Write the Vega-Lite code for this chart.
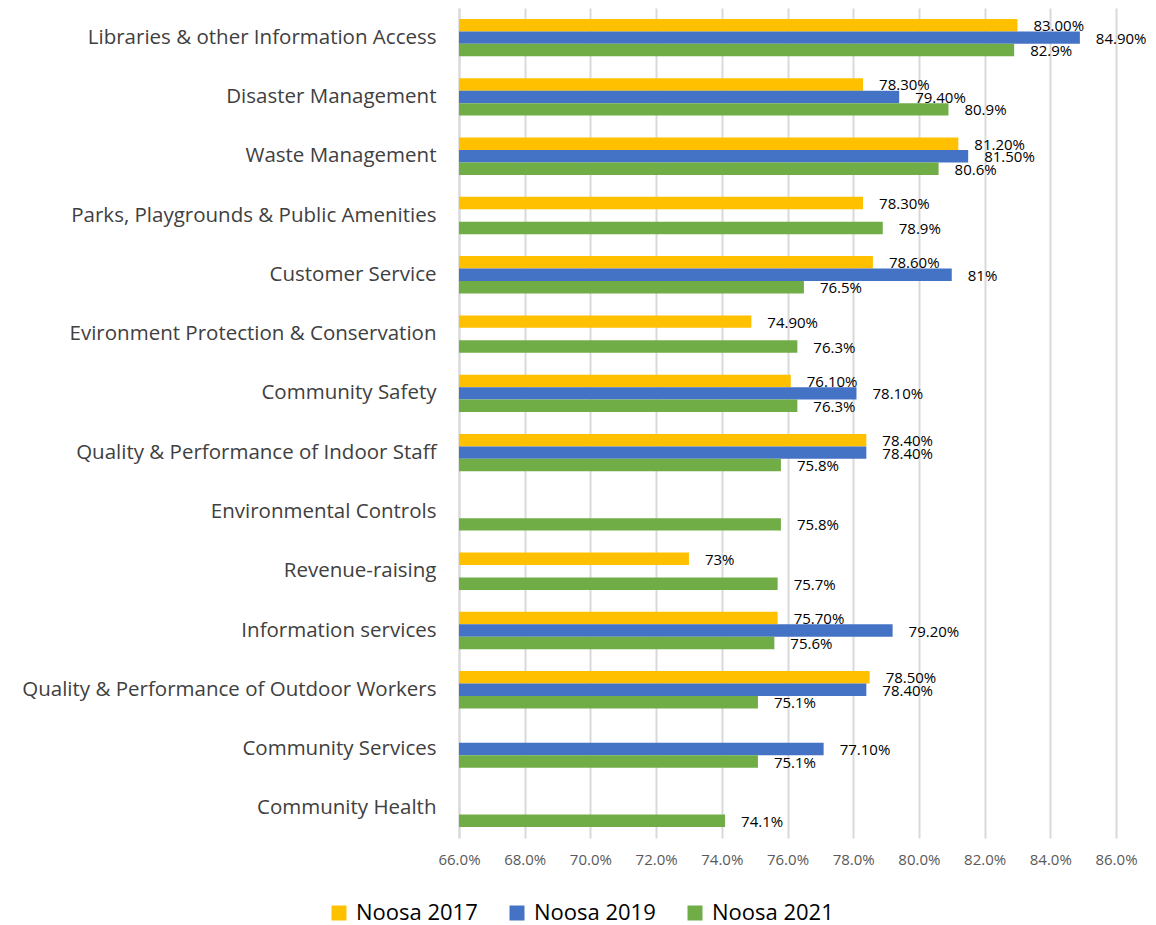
{
  "$schema": "https://vega.github.io/schema/vega-lite/v6.json",
  "autosize": {"type": "none"},
  "width": 657,
  "height": 830,
  "padding": {"left": 459, "top": 8, "right": 40, "bottom": 87},
  "background": "white",
  "config": {"view": {"stroke": null}, "font": "Open Sans"},
  "data": {"values": [
    {"cat": "Libraries & other Information Access", "series": "Noosa 2017", "v": 0.830, "label": "83.00%"},
    {"cat": "Libraries & other Information Access", "series": "Noosa 2019", "v": 0.849, "label": "84.90%"},
    {"cat": "Libraries & other Information Access", "series": "Noosa 2021", "v": 0.829, "label": "82.9%"},
    {"cat": "Disaster Management", "series": "Noosa 2017", "v": 0.783, "label": "78.30%"},
    {"cat": "Disaster Management", "series": "Noosa 2019", "v": 0.794, "label": "79.40%"},
    {"cat": "Disaster Management", "series": "Noosa 2021", "v": 0.809, "label": "80.9%"},
    {"cat": "Waste Management", "series": "Noosa 2017", "v": 0.812, "label": "81.20%"},
    {"cat": "Waste Management", "series": "Noosa 2019", "v": 0.815, "label": "81.50%"},
    {"cat": "Waste Management", "series": "Noosa 2021", "v": 0.806, "label": "80.6%"},
    {"cat": "Parks, Playgrounds & Public Amenities", "series": "Noosa 2017", "v": 0.783, "label": "78.30%"},
    {"cat": "Parks, Playgrounds & Public Amenities", "series": "Noosa 2021", "v": 0.789, "label": "78.9%"},
    {"cat": "Customer Service", "series": "Noosa 2017", "v": 0.786, "label": "78.60%"},
    {"cat": "Customer Service", "series": "Noosa 2019", "v": 0.810, "label": "81%"},
    {"cat": "Customer Service", "series": "Noosa 2021", "v": 0.765, "label": "76.5%"},
    {"cat": "Evironment Protection & Conservation", "series": "Noosa 2017", "v": 0.749, "label": "74.90%"},
    {"cat": "Evironment Protection & Conservation", "series": "Noosa 2021", "v": 0.763, "label": "76.3%"},
    {"cat": "Community Safety", "series": "Noosa 2017", "v": 0.761, "label": "76.10%"},
    {"cat": "Community Safety", "series": "Noosa 2019", "v": 0.781, "label": "78.10%"},
    {"cat": "Community Safety", "series": "Noosa 2021", "v": 0.763, "label": "76.3%"},
    {"cat": "Quality & Performance of Indoor Staff", "series": "Noosa 2017", "v": 0.784, "label": "78.40%"},
    {"cat": "Quality & Performance of Indoor Staff", "series": "Noosa 2019", "v": 0.784, "label": "78.40%"},
    {"cat": "Quality & Performance of Indoor Staff", "series": "Noosa 2021", "v": 0.758, "label": "75.8%"},
    {"cat": "Environmental Controls", "series": "Noosa 2021", "v": 0.758, "label": "75.8%"},
    {"cat": "Revenue-raising", "series": "Noosa 2017", "v": 0.730, "label": "73%"},
    {"cat": "Revenue-raising", "series": "Noosa 2021", "v": 0.757, "label": "75.7%"},
    {"cat": "Information services", "series": "Noosa 2017", "v": 0.757, "label": "75.70%"},
    {"cat": "Information services", "series": "Noosa 2019", "v": 0.792, "label": "79.20%"},
    {"cat": "Information services", "series": "Noosa 2021", "v": 0.756, "label": "75.6%"},
    {"cat": "Quality & Performance of Outdoor Workers", "series": "Noosa 2017", "v": 0.785, "label": "78.50%"},
    {"cat": "Quality & Performance of Outdoor Workers", "series": "Noosa 2019", "v": 0.784, "label": "78.40%"},
    {"cat": "Quality & Performance of Outdoor Workers", "series": "Noosa 2021", "v": 0.751, "label": "75.1%"},
    {"cat": "Community Services", "series": "Noosa 2019", "v": 0.771, "label": "77.10%"},
    {"cat": "Community Services", "series": "Noosa 2021", "v": 0.751, "label": "75.1%"},
    {"cat": "Community Health", "series": "Noosa 2021", "v": 0.741, "label": "74.1%"}
  ]},
  "encoding": {
    "y": {
      "field": "cat", "type": "nominal", "sort": null,
      "scale": {"paddingInner": 0.37, "paddingOuter": 0.185},
      "axis": {"title": null, "ticks": false, "labelFontSize": 20.5, "labelColor": "#404040", "labelPadding": 23, "labelLimit": 500, "domainColor": "#D9D9D9", "domainWidth": 2, "labelFont": "Open Sans"}
    },
    "yOffset": {"field": "series", "type": "nominal", "scale": {"domain": ["Noosa 2017", "Noosa 2019", "Noosa 2021"], "paddingInner": 0, "paddingOuter": 0}}
  },
  "layer": [
    {
      "mark": {"type": "bar"},
      "encoding": {
        "x": {
          "field": "v", "type": "quantitative",
          "scale": {"domain": [0.66, 0.86], "zero": false, "nice": false},
          "axis": {"title": null, "format": ".1%", "values": [0.66, 0.68, 0.70, 0.72, 0.74, 0.76, 0.78, 0.80, 0.82, 0.84, 0.86], "domain": false, "ticks": false, "grid": true, "gridColor": "#D9D9D9", "gridWidth": 2, "labelFontSize": 15, "labelColor": "#595959", "labelPadding": 14, "labelFlush": false, "labelFont": "Open Sans"}
        },
        "x2": {"datum": 0.66},
        "color": {
          "field": "series", "type": "nominal",
          "scale": {"domain": ["Noosa 2017", "Noosa 2019", "Noosa 2021"], "range": ["#FFC000", "#4472C4", "#70AD47"]},
          "legend": {"title": null, "orient": "none", "direction": "horizontal", "legendX": -131, "legendY": 894, "symbolType": "square", "symbolSize": 225, "symbolStrokeWidth": 0, "labelFontSize": 22, "labelColor": "#000000", "columnPadding": 28, "labelOffset": 6, "labelFont": "Open Sans"}
        }
      }
    },
    {
      "mark": {"type": "text", "align": "left", "baseline": "middle", "dx": 16, "dy": 1, "fontSize": 15, "color": "#000000", "font": "Open Sans"},
      "encoding": {
        "x": {"field": "v", "type": "quantitative"},
        "text": {"field": "label", "type": "nominal"}
      }
    }
  ]
}
